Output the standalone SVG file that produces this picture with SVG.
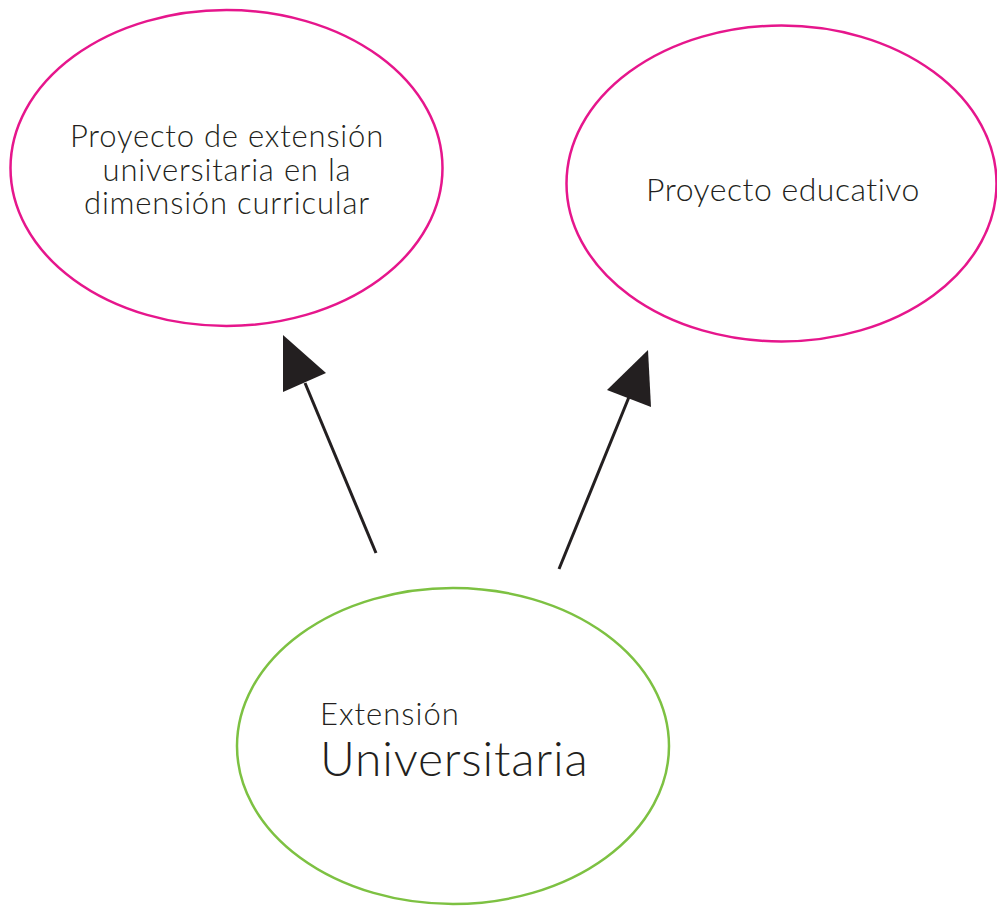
<svg xmlns="http://www.w3.org/2000/svg" width="997" height="906" viewBox="0 0 997 906">
<style>
.pk{fill:#fff;stroke:#e6168c;stroke-width:2.5}
.gr{fill:#fff;stroke:#7dc142;stroke-width:2.5}
.t{font-family:Lato,"Open Sans",sans-serif;font-weight:300;fill:#231f20}
.ln{stroke:#231f20;stroke-width:3;fill:none}
.ah{fill:#231f20}
</style>
<rect width="997" height="906" fill="#fff"/>
<g id="node-curricular">
<ellipse class="pk" cx="226.5" cy="168" rx="216" ry="158"/>
<text class="t" font-size="31" letter-spacing="0.8" text-anchor="middle"><tspan x="227" y="147">Proyecto de extensión</tspan><tspan x="227" y="181">universitaria en la</tspan><tspan x="227" y="214">dimensión curricular</tspan></text>
</g>
<g id="node-educativo">
<ellipse class="pk" cx="781.5" cy="183.5" rx="215" ry="158"/>
<text class="t" font-size="32" letter-spacing="0.5" text-anchor="middle" x="783" y="201">Proyecto educativo</text>
</g>
<g id="node-extension">
<ellipse class="gr" cx="453" cy="746" rx="216" ry="158"/>
<text class="t" font-size="31" letter-spacing="1" x="320" y="725">Extensión</text>
<text class="t" font-size="48" letter-spacing="0.8" x="320" y="776">Universitaria</text>
</g>
<g id="connectors">
<line class="ln" x1="376" y1="553" x2="305" y2="383"/>
<polygon class="ah" points="283,335 326,373 283,392"/>
<line class="ln" x1="559" y1="569" x2="629" y2="397"/>
<polygon class="ah" points="648,350 607,390 651,407"/>
</g>
</svg>
